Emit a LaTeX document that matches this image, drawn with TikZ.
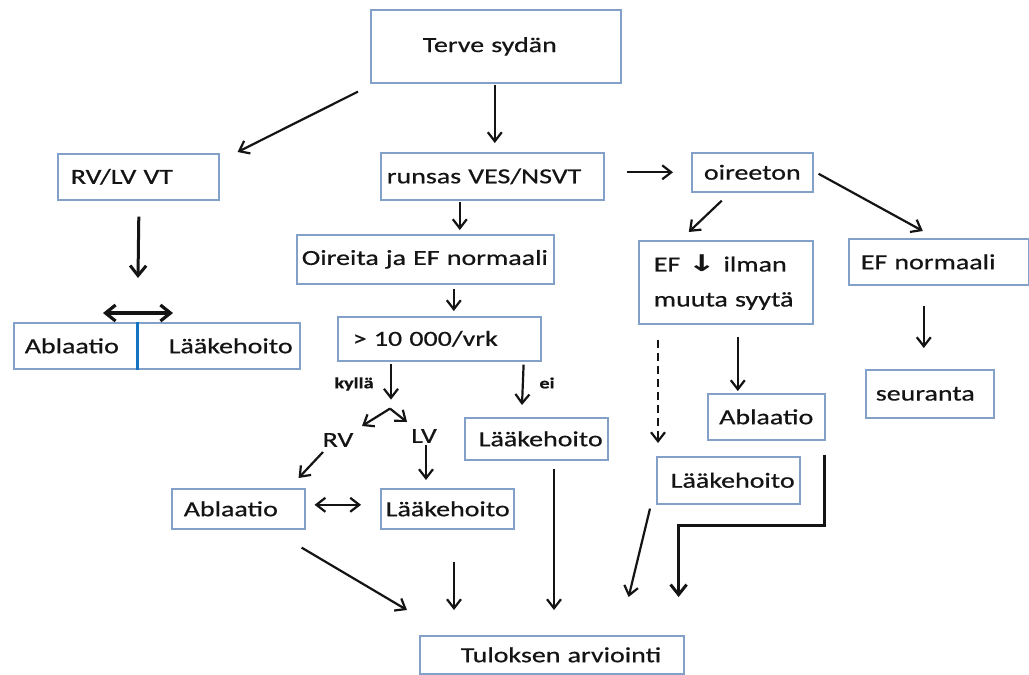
\documentclass[tikz,border=0pt]{standalone}
\usepackage{fontspec}
\setmainfont{Carlito}[FakeStretch=1.3, FakeBold=0.6]
\newfontfamily\arrowfont{DejaVu Sans}
\usetikzlibrary{arrows.meta}
\definecolor{bord}{RGB}{130,160,200}
\definecolor{ink}{RGB}{20,20,20}
\definecolor{divblue}{RGB}{20,115,195}
\newcommand{\boxfs}{\fontsize{21.5}{26}\selectfont}
\newcommand{\lblfs}{\fontsize{15.5}{18}\selectfont\bfseries}
\newcommand{\downarr}{\scalebox{1.5}[1]{\arrowfont\bfseries\fontsize{23}{23}\selectfont ↓}}

\begin{document}
\begin{tikzpicture}[x=1pt,y=-1pt,
  box/.style={draw=bord, line width=1.6pt, fill=white, anchor=north west,
              inner ysep=0pt, text=ink, font=\boxfs},
  lft/.style 2 args={align=left, inner xsep=#1, text width=#2},
  ctr/.style 2 args={align=center, inner xsep=0pt, minimum width=#1, minimum height=#2},
  lbl/.style={text=ink, font=\boxfs, inner sep=0pt},
  small/.style={text=ink, font=\lblfs, inner sep=0pt},
  arr/.style={draw=ink, line width=2.2pt, -{Straight Barb[length=9pt,width=14pt]}},
  thickarr/.style={draw=ink, line width=3pt, -{Straight Barb[length=10pt,width=16pt]}},
  dbl/.style={draw=ink, line width=2.2pt, {Straight Barb[length=9pt,width=14pt]}-{Straight Barb[length=9pt,width=14pt]}},
  thickdbl/.style={draw=ink, line width=3.2pt, {Straight Barb[length=10pt,width=16pt]}-{Straight Barb[length=10pt,width=16pt]}},
  divider/.style={draw=divblue, line width=3pt},
]
\fill[white] (0,0) rectangle (1029,675);
\useasboundingbox (0,0) rectangle (1029,675);

% boxes
\node[box, lft={52pt}{146pt}, minimum height=73pt] (terve) at (370,9) {Terve sydän};
\node[box, lft={6pt}{211pt}, minimum height=47pt] (runsas) at (380,152) {runsas VES/NSVT};
\node[box, lft={13pt}{135pt}, minimum height=46pt] (rvlv) at (57,153) {RV/LV VT};
\node[box, lft={5pt}{247pt}, minimum height=49pt] (oireita) at (296,234) {\mbox{Oireita ja EF normaali}};
\node[box, lft={15pt}{173pt}, minimum height=44pt] (gt) at (337,316) {> 10~000/vrk};
\node[box, ctr={121pt}{39pt}] (oireeton) at (691,152) {oireeton};
\node[box, lft={15pt}{144pt}, minimum height=83pt, font=\fontsize{21.5}{35}\selectfont] (efd) at (638,240)
  {EF \downarr{} ilman\\muuta syytä};
\node[box, lft={12pt}{156pt}, minimum height=46pt] (efn) at (848,238) {EF normaali};
\node[box, lft={11pt}{264pt}, minimum height=46pt] (split) at (13,322)
  {\mbox{\makebox[144pt][l]{Ablaatio}Lääkehoito}};
\node[box, lft={10pt}{108pt}, minimum height=48pt] (seur) at (865,369) {seuranta};
\node[box, ctr={117pt}{46pt}] (ablR) at (707,393) {Ablaatio};
\node[box, lft={14pt}{115pt}, minimum height=47pt] (lkR) at (656,456) {\mbox{Lääkehoito}};
\node[box, lft={14pt}{115pt}, minimum height=42pt] (lkE) at (464,417) {\mbox{Lääkehoito}};
\node[lbl] (rv) at (338,440) {RV};
\node[lbl] (lv) at (424,436) {LV};
\node[box, lft={12pt}{109pt}, minimum height=40pt] (ablL) at (171,488) {Ablaatio};
\node[box, lft={5pt}{123pt}, minimum height=40pt] (lkL) at (380,488) {\mbox{Lääkehoito}};
\node[box, lft={41pt}{182pt}, minimum height=38pt] (tul) at (419,635) {\mbox{Tuloksen arviointi}};
\node[small] (kylla) at (354,384) {kyllä};
\node[small] (ei) at (547,383) {ei};

% blue divider inside the split box
\draw[divider] ([shift={(124,0)}]split.north west) -- ([shift={(124,0)}]split.south west);

% connectors
\draw[arr] ([shift={(-12,8)}]terve.south west) -- ([shift={(18,-1)}]rvlv.north east);
\draw[arr] ([shift={(-1,1)}]terve.south) -- ([shift={(2.5,-9)}]runsas.north);
\draw[arr] ([shift={(22,-4)}]runsas.east) -- ([shift={(-18,0)}]oireeton.west);
\draw[arr] ([shift={(-32.5,1)}]runsas.south) -- ([shift={(34.5,-4)}]oireita.north);
\draw[arr] ([shift={(28.5,4)}]oireita.south) -- ([shift={(14.5,-5)}]gt.north);
\draw[thickarr] ([shift={(0.5,16)}]rvlv.south) -- ([shift={(125,-44)}]split.north west);
\draw[thickdbl] ([shift={(90,-9)}]split.north west) -- ([shift={(160,-9)}]split.north west);
\draw[arr] ([shift={(-30.5,8)}]oireeton.south) -- ([shift={(-37,-8)}]efd.north);
\draw[arr] ([shift={(5,1.5)}]oireeton.east) -- ([shift={(-16,-7)}]efn.north);
\draw[arr] ([shift={(12,12)}]efd.south) -- ([shift={(-28.5,-2)}]ablR.north);
\draw[arr, dash pattern=on 8pt off 5pt] ([shift={(20,15)}]efd.south west) -- ([shift={(2,-13)}]lkR.north west);
\draw[arr] ([shift={(-15,20)}]efn.south) -- ([shift={(-6,-21)}]seur.north);

\coordinate (fork) at ([shift={(53,47)}]gt.south west);
\draw[arr] ([shift={(54,2)}]gt.south west) -- ([shift={(54,38)}]gt.south west);
\draw[arr] (fork) -- ([shift={(24,-14)}]rv.center);
\draw[arr] (fork) -- ([shift={(-17,-14)}]lv.center);
\draw[arr] ([shift={(-18,3)}]gt.south east) -- ([shift={(58,-12)}]lkE.north west);
\draw[arr] ([shift={(2,9)}]lv.center) -- ([shift={(46,-8)}]lkL.north west);
\draw[arr] ([shift={(-15,12)}]rv.center) -- ([shift={(-7,-10)}]ablL.north east);
\draw[dbl] ([shift={(9,-4)}]ablL.east) -- ([shift={(-19,-4)}]lkL.west);

\draw[arr] ([shift={(-4,18)}]ablL.south east) -- ([shift={(-12,-25)}]tul.north west);
\draw[arr] ([shift={(74,32)}]lkL.south west) -- ([shift={(35,-25)}]tul.north west);
\draw[arr] ([shift={(90,8)}]lkE.south west) -- ([shift={(135,-25)}]tul.north west);
\draw[arr] ([shift={(-6,4)}]lkR.south west) -- ([shift={(-56,-38)}]tul.north east);
\draw[thickarr] ([shift={(-1,14)}]ablR.south east) -- ++(0,71) -- ++(-146,0)
  -- ([shift={(-6,-38)}]tul.north east);
\end{tikzpicture}
\end{document}
